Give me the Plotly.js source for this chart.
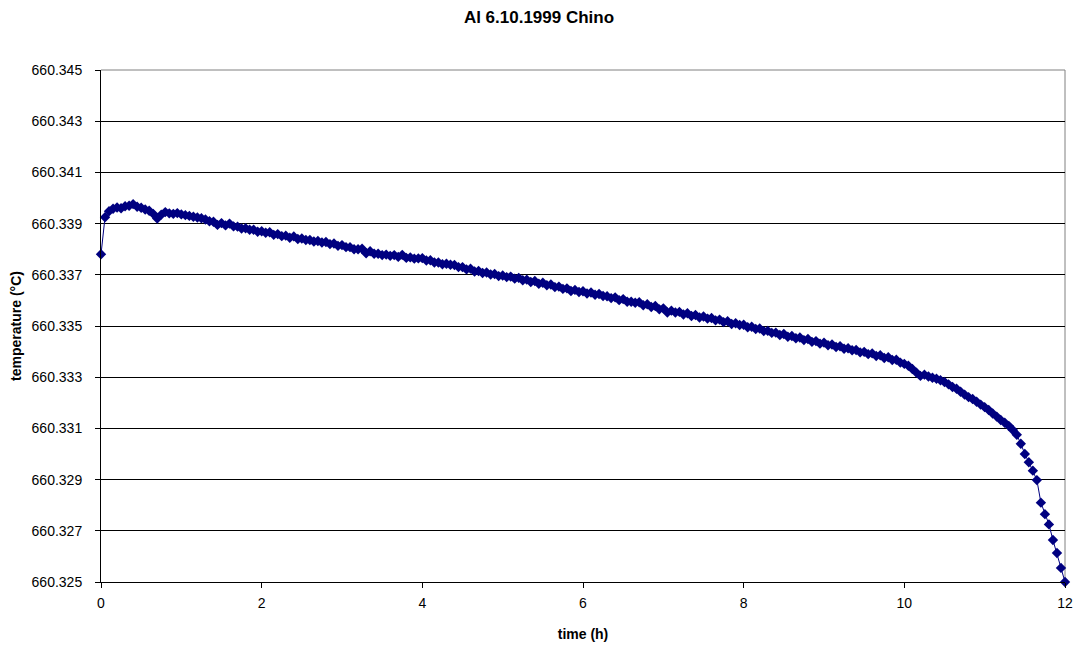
<!DOCTYPE html>
<html>
<head>
<meta charset="utf-8">
<script src="https://cdn.plot.ly/plotly-3.0.1.min.js"></script>
<style>html,body{margin:0;padding:0;background:#fff;}#chart{width:1078px;height:649px;}</style>
</head>
<body>
<div id="chart"></div>
<script>
const chartTitle = "Al 6.10.1999 Chino";
const xTitle = "time (h)";
const yTitle = "temperature (°C)";

const timeH = [
  0.00,0.05,0.10,0.15,0.20,0.25,0.30,0.35,0.40,0.45,0.50,0.55,0.60,0.65,0.70,0.75,0.80,0.85,0.90,0.95,
  1.00,1.05,1.10,1.15,1.20,1.25,1.30,1.35,1.40,1.45,1.50,1.55,1.60,1.65,1.70,1.75,1.80,1.85,1.90,1.95,
  2.00,2.05,2.10,2.15,2.20,2.25,2.30,2.35,2.40,2.45,2.50,2.55,2.60,2.65,2.70,2.75,2.80,2.85,2.90,2.95,
  3.00,3.05,3.10,3.15,3.20,3.25,3.30,3.35,3.40,3.45,3.50,3.55,3.60,3.65,3.70,3.75,3.80,3.85,3.90,3.95,
  4.00,4.05,4.10,4.15,4.20,4.25,4.30,4.35,4.40,4.45,4.50,4.55,4.60,4.65,4.70,4.75,4.80,4.85,4.90,4.95,
  5.00,5.05,5.10,5.15,5.20,5.25,5.30,5.35,5.40,5.45,5.50,5.55,5.60,5.65,5.70,5.75,5.80,5.85,5.90,5.95,
  6.00,6.05,6.10,6.15,6.20,6.25,6.30,6.35,6.40,6.45,6.50,6.55,6.60,6.65,6.70,6.75,6.80,6.85,6.90,6.95,
  7.00,7.05,7.10,7.15,7.20,7.25,7.30,7.35,7.40,7.45,7.50,7.55,7.60,7.65,7.70,7.75,7.80,7.85,7.90,7.95,
  8.00,8.05,8.10,8.15,8.20,8.25,8.30,8.35,8.40,8.45,8.50,8.55,8.60,8.65,8.70,8.75,8.80,8.85,8.90,8.95,
  9.00,9.05,9.10,9.15,9.20,9.25,9.30,9.35,9.40,9.45,9.50,9.55,9.60,9.65,9.70,9.75,9.80,9.85,9.90,9.95,
  10.00,10.05,10.10,10.15,10.20,10.25,10.30,10.35,10.40,10.45,10.50,10.55,10.60,10.65,10.70,10.75,10.80,10.85,10.90,10.95,
  11.00,11.05,11.10,11.15,11.20,11.25,11.30,11.35,11.40,11.45,11.50,11.55,11.60,11.65,11.70,11.75,11.80,11.85,11.90,11.95,
  12.00
];

const temperatureC = [
  660.3378,660.33925,660.33948,660.33958,660.33963,660.3396,660.33968,660.3397,660.33976,660.33966,660.33962,660.33955,660.3395,660.33938,660.3392,660.33935,660.33945,660.3394,660.33938,660.33941,
  660.33936,660.33933,660.3393,660.33927,660.33924,660.33921,660.33916,660.33909,660.33907,660.33895,660.33902,660.33893,660.339,660.33889,660.33888,660.33881,660.33882,660.33876,660.33876,660.33868,
  660.3387,660.33864,660.33866,660.33856,660.33859,660.33851,660.33853,660.33845,660.3385,660.3384,660.33842,660.33836,660.33836,660.3383,660.33832,660.33826,660.33828,660.3382,660.33822,660.33813,
  660.33816,660.33808,660.33808,660.338,660.338,660.33802,660.33784,660.33792,660.33782,660.33782,660.33777,660.33779,660.33774,660.33777,660.3377,660.33778,660.33766,660.33768,660.33763,660.33764,
  660.33765,660.33756,660.33757,660.33748,660.33748,660.33741,660.33743,660.33739,660.33738,660.3373,660.3373,660.33721,660.33724,660.33713,660.33715,660.33707,660.33709,660.33701,660.33703,660.33695,
  660.33697,660.33691,660.33693,660.33685,660.33688,660.33679,660.33681,660.33672,660.33676,660.33665,660.33669,660.33659,660.33662,660.33652,660.33654,660.33645,660.33647,660.33637,660.33641,660.33633,
  660.33636,660.33627,660.33631,660.33622,660.33625,660.33617,660.33616,660.33609,660.33612,660.33601,660.33605,660.33595,660.33595,660.33591,660.33593,660.33581,660.33585,660.33574,660.33578,660.33565,
  660.33569,660.33553,660.3356,660.33553,660.33555,660.33545,660.3355,660.33539,660.33543,660.33533,660.33537,660.33529,660.33531,660.33522,660.33525,660.33515,660.33519,660.33508,660.33511,660.33504,
  660.33505,660.33495,660.33497,660.33488,660.3349,660.3348,660.33481,660.33473,660.33474,660.33465,660.33469,660.33458,660.33461,660.33452,660.33455,660.33445,660.33449,660.33438,660.33441,660.33431,
  660.33435,660.33425,660.33428,660.33418,660.33421,660.33411,660.33413,660.33405,660.33406,660.33397,660.33399,660.3339,660.33393,660.33383,660.33386,660.33375,660.33378,660.33367,660.33368,660.33357,
  660.33352,660.33345,660.33332,660.33318,660.33305,660.3331,660.33303,660.33298,660.33294,660.33288,660.33281,660.33272,660.33262,660.33255,660.33243,660.33232,660.33222,660.33215,660.33204,660.33193,
  660.33183,660.33172,660.33158,660.33146,660.33133,660.33122,660.3311,660.33094,660.33075,660.3304,660.33,660.32968,660.32935,660.32898,660.3281,660.32765,660.32725,660.32664,660.32613,660.32555,
  660.325
];

const yTickVals = [660.325,660.327,660.329,660.331,660.333,660.335,660.337,660.339,660.341,660.343,660.345];
const yTickText = ["660.325","660.327","660.329","660.331","660.333","660.335","660.337","660.339","660.341","660.343","660.345"];
const xTickVals = [0,2,4,6,8,10,12];

const FONT = "Arial, 'Liberation Sans', sans-serif";

const trace = {
  x: timeH,
  y: temperatureC,
  type: "scatter",
  mode: "lines+markers",
  line: {color: "#000080", width: 1},
  marker: {symbol: "diamond", size: 8, color: "#000080"},
  cliponaxis: false,
  hoverinfo: "x+y"
};

const layout = {
  width: 1078,
  height: 649,
  margin: {l: 101, r: 13, t: 70, b: 67},
  paper_bgcolor: "#ffffff",
  plot_bgcolor: "#ffffff",
  showlegend: false,
  font: {family: FONT, size: 14, color: "#000"},
  title: {
    text: "<b>" + chartTitle + "</b>",
    font: {family: FONT, size: 17, color: "#000"},
    xref: "container", x: 0.5, xanchor: "center",
    yref: "container", y: 1 - 17/649, yanchor: "middle"
  },
  xaxis: {
    range: [0, 12],
    tickvals: xTickVals,
    ticks: "outside", ticklen: 5, tickcolor: "#000", tickwidth: 1,
    showline: true, linecolor: "#000", linewidth: 1,
    showgrid: false, zeroline: false,
    tickfont: {family: FONT, size: 14, color: "#000"},
    ticklabelstandoff: 3,
    title: {text: "<b>" + xTitle + "</b>", font: {family: FONT, size: 14, color: "#000"}, standoff: 19},
    automargin: false
  },
  yaxis: {
    range: [660.325, 660.345],
    tickvals: yTickVals,
    ticktext: yTickText,
    ticks: "outside", ticklen: 5, tickcolor: "#000", tickwidth: 1,
    showline: true, linecolor: "#000", linewidth: 1,
    showgrid: true, gridcolor: "#000", gridwidth: 1,
    zeroline: false,
    tickfont: {family: FONT, size: 14, color: "#000"},
    ticklabelstandoff: 10,
    title: {text: "<b>" + yTitle + "</b>", font: {family: FONT, size: 14, color: "#000"}, standoff: 6},
    automargin: false
  },
  shapes: [
    {type: "line", xref: "paper", yref: "paper", x0: 0, x1: 1, y0: 1, y1: 1, line: {color: "#808080", width: 1}, layer: "above"},
    {type: "line", xref: "paper", yref: "paper", x0: 1, x1: 1, y0: 0, y1: 1, line: {color: "#808080", width: 1}, layer: "below"}
  ]
};

Plotly.newPlot("chart", [trace], layout, {displayModeBar: false, staticPlot: true});
</script>
</body>
</html>
